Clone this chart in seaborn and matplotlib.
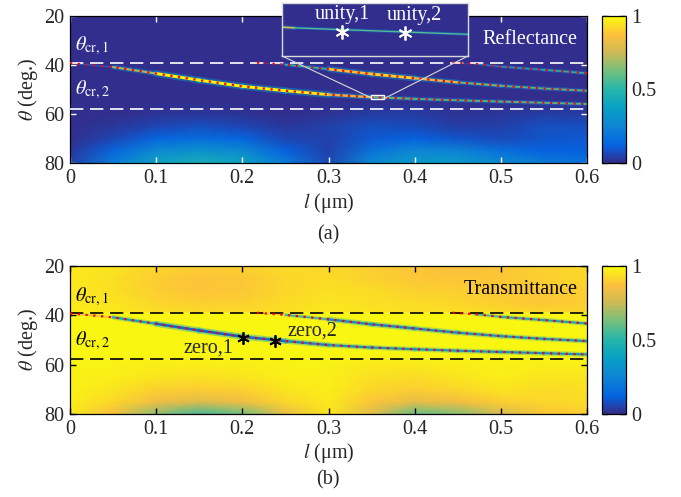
import numpy as np
import matplotlib
matplotlib.use('Agg')
import matplotlib.pyplot as plt
import seaborn as sns
from matplotlib.collections import LineCollection
from matplotlib.colors import LinearSegmentedColormap
from matplotlib.patches import Rectangle, ConnectionPatch

sns.set_theme(style='ticks')
plt.rcParams['font.family'] = ['Liberation Serif', 'DejaVu Serif']
plt.rcParams['mathtext.fontset'] = 'stix'
plt.rcParams['font.size'] = 14.5
plt.rcParams['axes.labelsize'] = 14.5
plt.rcParams['xtick.labelsize'] = 14.5
plt.rcParams['ytick.labelsize'] = 14.5

# ---------------- data ----------------
theta_cr1 = 39.05
theta_cr2 = 57.8

# background grid (l in um, theta in deg)
bg_l = [0, 0.05, 0.1, 0.15, 0.2, 0.25, 0.3, 0.35, 0.4, 0.45, 0.5, 0.55, 0.6]
bg_theta_high = [20, 25, 30, 35, theta_cr1]
bg_theta_low = [theta_cr1, 45, 50, 55, 60, 65, 70, 75, 80]

R_high = [[0.01] * 13] * 5
R_low = [
    [0.01] * 13,
    [0.01] * 13,
    [0.01] * 13,
    [0.01] * 13,
    [0.01, 0.01, 0.02, 0.03, 0.02, 0.01, 0.02, 0.04, 0.04, 0.02, 0.03, 0.04, 0.04],
    [0.01, 0.03, 0.06, 0.08, 0.06, 0.03, 0.05, 0.08, 0.07, 0.04, 0.05, 0.08, 0.08],
    [0.01, 0.06, 0.13, 0.16, 0.13, 0.06, 0.05, 0.10, 0.12, 0.09, 0.07, 0.09, 0.10],
    [0.03, 0.13, 0.27, 0.32, 0.27, 0.12, 0.05, 0.18, 0.26, 0.24, 0.17, 0.12, 0.12],
    [0.05, 0.22, 0.40, 0.45, 0.40, 0.22, 0.07, 0.27, 0.36, 0.35, 0.28, 0.22, 0.18],
]

T_high = [
    [0.96, 0.95, 0.92, 0.90, 0.91, 0.93, 0.92, 0.90, 0.88, 0.87, 0.88, 0.91, 0.93],
    [0.96, 0.94, 0.90, 0.88, 0.89, 0.92, 0.93, 0.91, 0.89, 0.88, 0.89, 0.91, 0.92],
    [0.96, 0.94, 0.90, 0.88, 0.89, 0.92, 0.94, 0.93, 0.91, 0.90, 0.89, 0.89, 0.91],
    [0.96, 0.95, 0.92, 0.90, 0.91, 0.93, 0.95, 0.94, 0.93, 0.92, 0.90, 0.89, 0.90],
    [0.97, 0.96, 0.94, 0.93, 0.93, 0.94, 0.96, 0.95, 0.94, 0.94, 0.93, 0.92, 0.92],
]
T_low = [
    [0.99] * 13,
    [0.99] * 13,
    [0.99] * 13,
    [0.99] * 13,
    [0.98, 0.98, 0.97, 0.97, 0.97, 0.98, 0.98, 0.96, 0.96, 0.97, 0.98, 0.97, 0.97],
    [0.98, 0.97, 0.95, 0.94, 0.95, 0.97, 0.97, 0.94, 0.93, 0.95, 0.97, 0.95, 0.95],
    [0.98, 0.95, 0.91, 0.90, 0.91, 0.95, 0.97, 0.92, 0.90, 0.92, 0.95, 0.93, 0.94],
    [0.97, 0.92, 0.84, 0.80, 0.84, 0.92, 0.96, 0.88, 0.82, 0.85, 0.90, 0.92, 0.93],
    [0.96, 0.85, 0.66, 0.55, 0.62, 0.82, 0.95, 0.80, 0.60, 0.65, 0.78, 0.88, 0.90],
]

# resonance curves
c1_l = [0, 0.05, 0.1, 0.15, 0.2, 0.25, 0.3, 0.35, 0.4, 0.45, 0.5, 0.55, 0.6]
c1_theta = [39.3, 40.9, 43.5, 46.2, 48.7, 50.5, 52.1, 53.1, 53.8, 54.4, 54.9, 55.4, 55.9]
c2_l = [0.217, 0.25, 0.3, 0.35, 0.4, 0.45, 0.5, 0.55, 0.6]
c2_theta = [39.05, 39.9, 41.7, 43.7, 45.4, 47.1, 48.5, 49.6, 50.5]
c3_l = [0.444, 0.47, 0.5, 0.55, 0.6]
c3_theta = [39.05, 39.6, 40.7, 42.0, 43.4]

# peak value along each band
c1_R = [0.0, 0.35, 1.0, 1.0, 1.0, 1.0, 0.95, 0.6, 0.55, 0.55, 0.55, 0.55, 0.55]
c2_R = [0.0, 0.2, 0.8, 0.95, 0.9, 0.65, 0.55, 0.55, 0.55]
c3_R = [0.0, 0.2, 0.35, 0.45, 0.5]
c1_T = [1.0, 0.6, 0.15, 0.12, 0.12, 0.2, 0.3, 0.35, 0.35, 0.35, 0.35, 0.35, 0.35]
c2_T = [1.0, 0.7, 0.3, 0.25, 0.25, 0.3, 0.35, 0.35, 0.35]
c3_T = [1.0, 0.6, 0.45, 0.4, 0.4]

unity_l = [0.3538, 0.3589]
unity_theta = [53.22, 53.27]
zero_l = [0.2007, 0.238]
zero_theta = [49.3, 50.5]

x_ticks = [0, 0.1, 0.2, 0.3, 0.4, 0.5, 0.6]
x_labels = ['0', '0.1', '0.2', '0.3', '0.4', '0.5', '0.6']
y_ticks = [20, 40, 60, 80]
y_labels = ['20', '40', '60', '80']
cb_ticks = [0, 0.5, 1]
cb_labels = ['0', '0.5', '1']

# zoom window for the inset
zoom_l = (0.349, 0.364)
zoom_theta = (52.35, 53.95)

# ---------------- colormap (parula-like) ----------------
parula = LinearSegmentedColormap.from_list('parula', [
    (0.00, (0.208, 0.166, 0.529)),
    (0.12, (0.020, 0.390, 0.880)),
    (0.25, (0.060, 0.520, 0.830)),
    (0.38, (0.030, 0.630, 0.770)),
    (0.50, (0.150, 0.710, 0.670)),
    (0.62, (0.440, 0.750, 0.500)),
    (0.75, (0.800, 0.730, 0.340)),
    (0.87, (0.990, 0.750, 0.240)),
    (1.00, (0.976, 0.983, 0.054)),
])


def draw_field(ax, high, low):
    X, Y = np.meshgrid(bg_l, bg_theta_high)
    ax.pcolormesh(X, Y, np.array(high), cmap=parula, vmin=0, vmax=1,
                  shading='gouraud', zorder=0)
    X, Y = np.meshgrid(bg_l, bg_theta_low)
    return ax.pcolormesh(X, Y, np.array(low), cmap=parula, vmin=0, vmax=1,
                         shading='gouraud', zorder=0)


def draw_band(ax, xs, ys, vals, bg, frac, scale=1.0):
    pts = np.column_stack([xs, ys])
    segs = np.stack([pts[:-1], pts[1:]], axis=1)
    vals = np.array(vals)
    v = (vals[:-1] + vals[1:]) / 2
    d = np.abs(v - bg)
    core_w = (0.4 + 1.7 * d) * scale
    halo = v + (bg - v) * frac
    ax.add_collection(LineCollection(segs, colors=parula(halo), linewidths=core_w * 2.3,
                                     alpha=0.45, capstyle='round', zorder=2))
    ax.add_collection(LineCollection(segs, colors=parula(v), linewidths=core_w,
                                     capstyle='round', zorder=2.1))


def style_axes(ax, tick_color):
    ax.set_xlim(0, 0.6)
    ax.set_ylim(80, 20)
    ax.set_xticks(x_ticks, x_labels)
    ax.set_yticks(y_ticks, y_labels)
    ax.tick_params(direction='in', top=True, right=True, length=4, width=1,
                   color=tick_color, pad=4)
    for s in ax.spines.values():
        s.set_color('black')
        s.set_linewidth(0.9)
    ax.set_xlabel('$l$ (μm)', labelpad=2)
    ax.set_ylabel(r'$\theta$ (deg.)', labelpad=3)


def style_cbar(fig, mesh, cax):
    cb = fig.colorbar(mesh, cax=cax, ticks=cb_ticks)
    cb.ax.set_yticklabels(cb_labels)
    cb.ax.tick_params(direction='in', left=True, right=True, length=4, width=1,
                      color='black', pad=4)
    cb.outline.set_edgecolor('black')
    cb.outline.set_linewidth(0.9)


fig = plt.figure(figsize=(6.81, 4.97), dpi=100)
W, H = 681, 497
ax_r = fig.add_axes([70 / W, 1 - 163.3 / H, 517 / W, 147.6 / H])
ax_t = fig.add_axes([70 / W, 1 - 414 / H, 517 / W, 148.3 / H])
cax_r = fig.add_axes([602 / W, 1 - 163.3 / H, 24 / W, 147.6 / H])
cax_t = fig.add_axes([602 / W, 1 - 414 / H, 24 / W, 148.3 / H])

curves = [(c1_l, c1_theta), (c2_l, c2_theta), (c3_l, c3_theta)]

for ax, high, low, peaks, bg, frac, col in [
        (ax_r, R_high, R_low, [c1_R, c2_R, c3_R], 0.0, 0.65, 'white'),
        (ax_t, T_high, T_low, [c1_T, c2_T, c3_T], 1.0, 0.35, 'black')]:
    mesh = draw_field(ax, high, low)
    for (xs, ys), pk in zip(curves, peaks):
        draw_band(ax, xs, ys, pk, bg, frac)
    for th in (theta_cr1, theta_cr2):
        ax.axhline(th, color=col, lw=1.2, dashes=(8, 4), zorder=3)
    for xs, ys in curves:
        sns.lineplot(x=xs, y=ys, ax=ax, color='red', linewidth=1.6,
                     linestyle=(0, (1, 2.5)), zorder=4)
    ax.text(0.006, 32.3, r'$\theta_{\rm cr,1}$', color=col, ha='left', va='center')
    ax.text(0.006, 50.2, r'$\theta_{\rm cr,2}$', color=col, ha='left', va='center')
    style_axes(ax, col)
    style_cbar(fig, mesh, cax_r if ax is ax_r else cax_t)

ax_r.text(0.589, 29.6, 'Reflectance', color='white', ha='right', va='center')
ax_t.text(0.589, 29.8, 'Transmittance', color='black', ha='right', va='center')

# zero points in transmittance
ax_t.plot(zero_l, zero_theta, ls='none', marker=(6, 2, 0), ms=9, mew=1.3,
          color='black', zorder=5)
ax_t.text(0.161, 53.3, 'zero,1', ha='center', va='center')
ax_t.text(0.281, 46.4, 'zero,2', ha='center', va='center')

# zoom rectangle and inset
ax_r.add_patch(Rectangle((zoom_l[0], zoom_theta[0]), zoom_l[1] - zoom_l[0],
                         zoom_theta[1] - zoom_theta[0], fill=False,
                         ec='white', lw=1.0, zorder=5))
ins = fig.add_axes([282 / W, 1 - 56 / H, 186 / W, 53 / H])
ins.set_facecolor(parula(0.01))
draw_band(ins, c1_l, c1_theta, c1_R, 0.0, 0.65, scale=0.7)
ins.plot(unity_l, unity_theta, ls='none', marker=(6, 2, 0), ms=10, mew=1.3,
         color='white', zorder=5)
ins.text(0.3539, 52.7, 'unity,1', color='white', ha='center', va='center')
ins.text(0.3597, 52.72, 'unity,2', color='white', ha='center', va='center')
ins.set_xlim(*zoom_l)
ins.set_ylim(zoom_theta[1], zoom_theta[0])
ins.set_xticks([])
ins.set_yticks([])
for s in ins.spines.values():
    s.set_color('0.85')
    s.set_linewidth(1.0)

for xa, ya, xb in [(zoom_l[0], 53.3, 0), (zoom_l[1], 53.8, 1)]:
    fig.add_artist(ConnectionPatch(xyA=(xa, ya), coordsA=ax_r.transData,
                                   xyB=(xb, 0), coordsB=ins.transAxes,
                                   color='0.85', lw=0.8, zorder=6))

fig.text(328 / W, 1 - 235 / H, '(a)', ha='center', va='center')
fig.text(328 / W, 1 - 480 / H, '(b)', ha='center', va='center')

fig.savefig('out.png', dpi=100)
